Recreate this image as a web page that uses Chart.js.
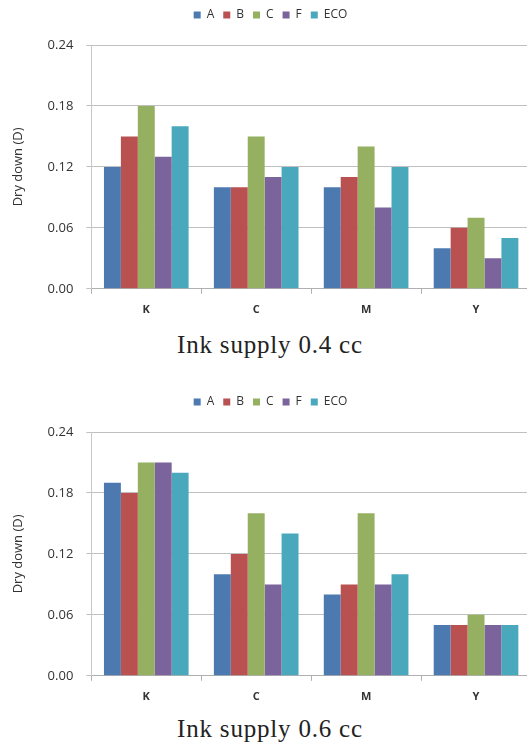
<!DOCTYPE html>
<html>
<head>
<meta charset="utf-8">
<script src="https://cdn.jsdelivr.net/npm/chart.js@4.4.1/dist/chart.umd.min.js"></script>
<style>
  html, body { margin: 0; padding: 0; background: #fff; overflow: hidden; }
  body { width: 527px; height: 742px; position: relative; }
  .box { position: absolute; left: 0; width: 531px; height: 325px; }
  .caption {
    position: absolute; left: 0; width: 540px; text-align: center;
    font-family: "Liberation Serif", "DejaVu Serif", serif; font-size: 25px;
    letter-spacing: 0.8px; color: #222;
  }
</style>
</head>
<body>
<div class="box" style="top:0"><canvas id="chart1"></canvas></div>
<div class="caption" style="top:331px">Ink supply 0.4 cc</div>
<div class="box" style="top:387px"><canvas id="chart2"></canvas></div>
<div class="caption" style="top:715px">Ink supply 0.6 cc</div>

<script>
// categories and series
const inks = ["K", "C", "M", "Y"];
const seriesNames = ["A", "B", "C", "F", "ECO"];
const seriesColors = ["#4c7ab0", "#b85150", "#94b060", "#7a649b", "#4aa8bd"];
const yTicks = [0, 0.06, 0.12, 0.18, 0.24];

// Ink supply 0.4 cc
const supply04A = [0.12, 0.10, 0.10, 0.04];
const supply04B = [0.15, 0.10, 0.11, 0.06];
const supply04C = [0.18, 0.15, 0.14, 0.07];
const supply04F = [0.13, 0.11, 0.08, 0.03];
const supply04ECO = [0.16, 0.12, 0.12, 0.05];

// Ink supply 0.6 cc
const supply06A = [0.19, 0.10, 0.08, 0.05];
const supply06B = [0.18, 0.12, 0.09, 0.05];
const supply06C = [0.21, 0.16, 0.16, 0.06];
const supply06F = [0.21, 0.09, 0.09, 0.05];
const supply06ECO = [0.20, 0.14, 0.10, 0.05];

// push the plot down a little below the legend
const legendGap = {
    id: 'legendGap',
    beforeInit(chart) {
        const fit = chart.legend.fit;
        chart.legend.fit = function () {
            fit.bind(chart.legend)();
            this.height += 14;
        };
    }
};

function makeChart(id, seriesData) {
    const ctx = document.getElementById(id).getContext("2d");
    return new Chart(ctx, {
        type: "bar",
        data: {
            labels: inks,
            datasets: seriesNames.map((name, i) => ({
                label: name,
                data: seriesData[i],
                backgroundColor: seriesColors[i],
                borderWidth: 0,
                barPercentage: 1,
                categoryPercentage: 0.77
            }))
        },
        options: {
            responsive: true,
            maintainAspectRatio: false,
            animation: false,
            layout: { padding: { left: 10, right: 0, top: 0, bottom: 0 } },
            plugins: {
                legend: {
                    position: "top",
                    labels: {
                        boxWidth: 7,
                        boxHeight: 7,
                        padding: 9,
                        color: "#333",
                        font: { family: "Open Sans", size: 12 }
                    }
                },
                tooltip: { enabled: false }
            },
            scales: {
                x: {
                    grid: {
                        drawOnChartArea: false,
                        drawTicks: true,
                        tickLength: 5,
                        color: "#b0b0b0"
                    },
                    border: { color: "#b0b0b0" },
                    ticks: {
                        padding: 9,
                        color: "#333",
                        font: { family: "Open Sans", size: 11, weight: "bold" }
                    }
                },
                y: {
                    min: 0,
                    max: 0.24,
                    afterBuildTicks: (axis) => {
                        axis.ticks = yTicks.map(v => ({ value: v }));
                    },
                    grid: {
                        color: "#c0c0c0",
                        tickLength: 5
                    },
                    border: { color: "#c8c8c8", width: 1 },
                    ticks: {
                        padding: 13,
                        color: "#333",
                        font: { family: "Open Sans", size: 13 },
                        callback: (v) => Number(v).toFixed(2)
                    },
                    title: {
                        display: true,
                        text: "Dry down (D)",
                        color: "#333",
                        padding: { top: 0, bottom: 9 },
                        font: { family: "Open Sans", size: 13 }
                    }
                }
            }
        },
        plugins: [legendGap]
    });
}

makeChart("chart1", [supply04A, supply04B, supply04C, supply04F, supply04ECO]);
makeChart("chart2", [supply06A, supply06B, supply06C, supply06F, supply06ECO]);
</script>
</body>
</html>
